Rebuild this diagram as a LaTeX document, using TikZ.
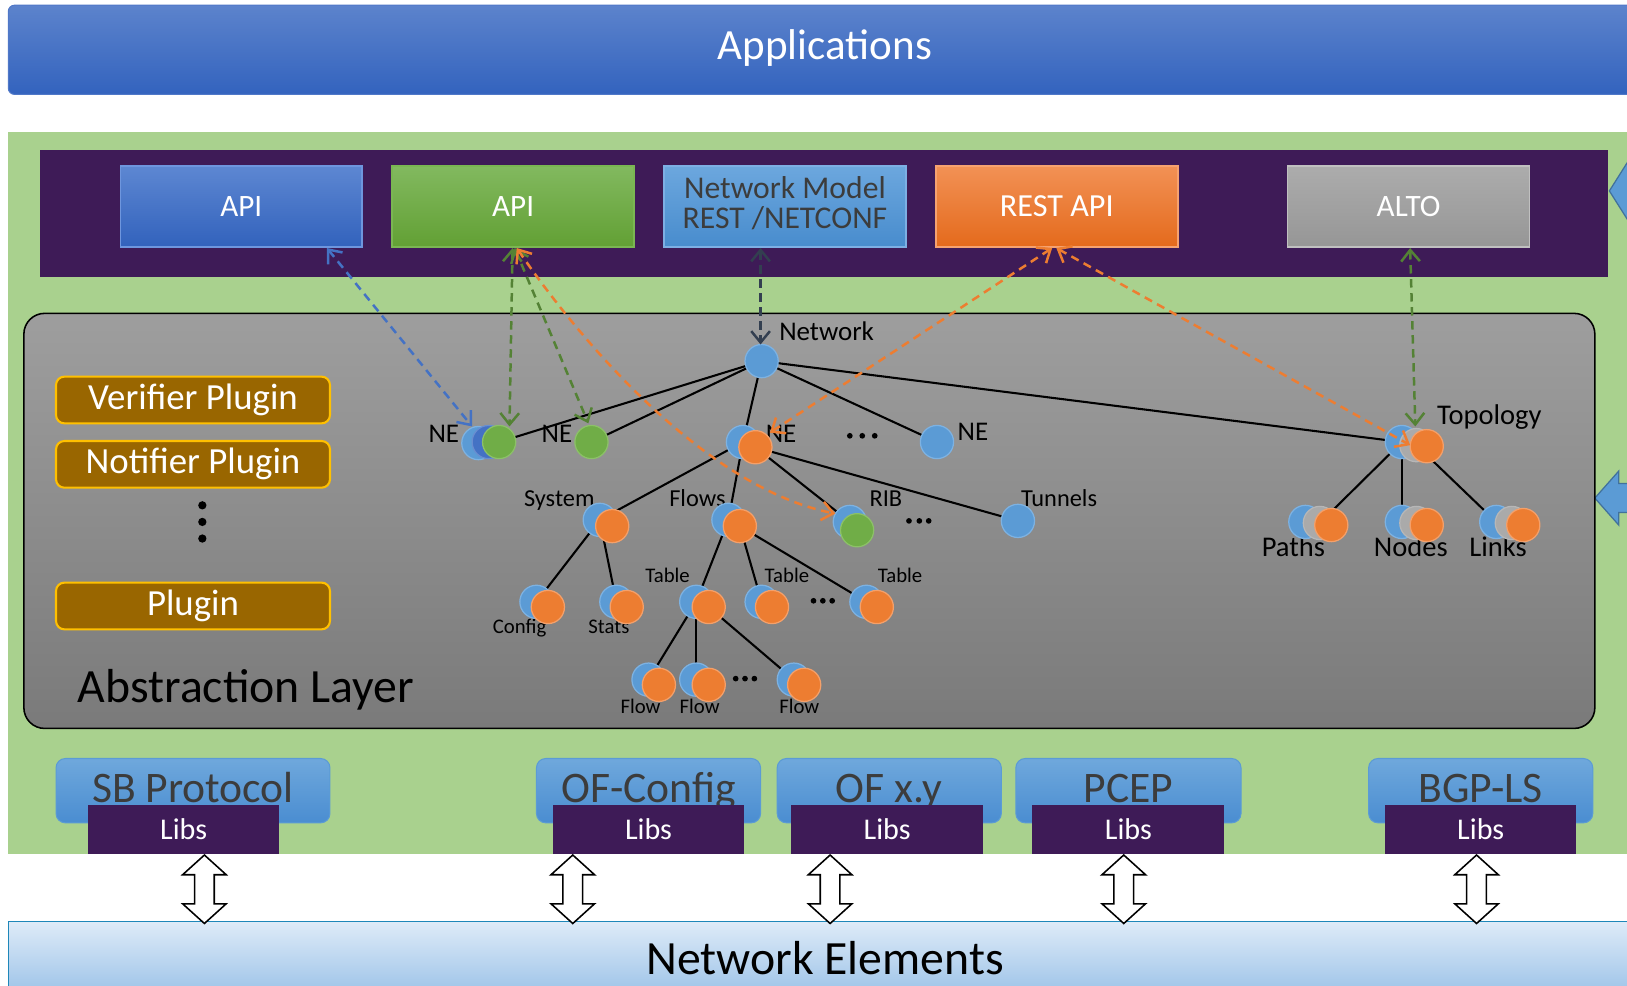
\documentclass[tikz,border=0pt]{standalone}
\usepackage{fontspec}
\setmainfont{Carlito}
\usetikzlibrary{arrows.meta}
\definecolor{purp}{RGB}{62,27,87}
\definecolor{greenbg}{RGB}{169,209,142}
\definecolor{appT}{RGB}{92,131,204}
\definecolor{appB}{RGB}{51,99,190}
\definecolor{appD}{RGB}{80,120,200}
\definecolor{cblue}{RGB}{91,155,213}
\definecolor{cblueL}{RGB}{125,178,226}
\definecolor{corange}{RGB}{237,125,49}
\definecolor{corangeL}{RGB}{244,160,106}
\definecolor{cgreen}{RGB}{112,173,71}
\definecolor{cgreenL}{RGB}{140,193,104}
\definecolor{cdblue}{RGB}{68,114,196}
\definecolor{cgrey}{RGB}{170,170,170}
\definecolor{slate}{RGB}{51,63,80}
\definecolor{dgreen}{RGB}{84,130,53}
\definecolor{dblue}{RGB}{68,114,196}
\definecolor{plugfill}{RGB}{153,102,0}
\definecolor{plugdraw}{RGB}{255,192,0}
\definecolor{txtgrey}{RGB}{60,60,60}
\definecolor{sbT}{RGB}{111,168,220}
\definecolor{sbB}{RGB}{74,141,209}
\definecolor{sbD}{RGB}{91,155,213}
\definecolor{arrfill}{RGB}{91,155,213}
\definecolor{arredge}{RGB}{65,113,156}
\definecolor{neT}{RGB}{222,235,248}
\definecolor{neB}{RGB}{157,195,232}
\definecolor{neD}{RGB}{30,135,185}
\definecolor{absT}{RGB}{158,158,158}
\definecolor{absB}{RGB}{122,122,122}
\newcommand\myfs[1]{\fontsize{#1}{#1}\selectfont}
\begin{document}
\begin{tikzpicture}[x=1pt,y=-1pt,
  every node/.style={inner sep=0pt, outer sep=0pt},
  apibox/.style={rectangle, minimum width=233pt, minimum height=78pt, line width=1.5pt, text=white, font=\myfs{30}, align=center},
  plug/.style={rectangle, rounded corners=8pt, fill=plugfill, draw=plugdraw, line width=2pt, minimum width=264pt, minimum height=45pt, text=white, font=\myfs{35.5}},
  sbbox/.style={rectangle, rounded corners=9pt, top color=sbT, bottom color=sbB, draw=sbD, line width=1pt, minimum height=62pt},
  sbtxt/.style={anchor=base, text=txtgrey, font=\myfs{42}},
  libs/.style={rectangle, fill=purp, minimum height=47pt, text=white, font=\myfs{29}},
  cb/.style={circle, minimum size=32pt, fill=cblue, draw=cblueL, line width=1.2pt},
  co/.style={cb, fill=corange, draw=corangeL},
  cg/.style={cb, fill=cgreen, draw=cgreenL},
  cd/.style={cb, fill=cdblue, draw=cdblue!80!white},
  cy/.style={cb, fill=cgrey, draw=cgrey!85!white},
  lbl/.style={anchor=base west, font=\myfs{26}},
  lblw/.style={anchor=base west, font=\myfs{27.5}},
  lbls/.style={anchor=base west, font=\myfs{23.5}},
  lblt/.style={anchor=base west, font=\myfs{20}},
  tedge/.style={line width=2pt, black},
  dar/.style={dash pattern=on 8pt off 5.5pt, line width=2.4pt, >={Straight Barb[length=11pt,width=18pt]}, <->},
  tdot/.style={circle, fill=black, minimum size=5.5pt},
  barrow/.style={fill=arrfill, draw=arredge, line width=1.2pt, line join=miter},
  darrow/.style={fill=white, draw=black, line width=1.5pt, line join=miter}
]
\clip (0,0) rectangle (1568,950);
\fill[white] (0,0) rectangle (1568,950);

% Applications bar
\node[rectangle, rounded corners=6pt, top color=appT, bottom color=appB, draw=appD, line width=1pt, minimum width=1574pt, minimum height=86pt] (apps) at (795,48) {};
\node[anchor=base, text=white, font=\myfs{41.5}] (appstxt) at (795,57) {Applications};

% green region and purple bar
\fill[greenbg] (8,127) rectangle (1580,823);
\fill[purp] (39,145) rectangle (1550,267);

% right side arrows
\draw[barrow] (1551,184) -- (1575,146) -- (1575,222) -- cycle;
\draw[barrow] (1537,480) -- (1560,454) -- (1560,466) -- (1575,466) -- (1575,494) -- (1560,494) -- (1560,506) -- cycle;

% API boxes
\node[apibox, top color={rgb,255:red,93;green,135;blue,210}, bottom color={rgb,255:red,50;green,98;blue,188}, draw={rgb,255:red,110;green,150;blue,222}] (api1) at (232.5,199) {API};
\node[apibox, top color={rgb,255:red,130;green,185;blue,95}, bottom color={rgb,255:red,98;green,160;blue,52}, draw={rgb,255:red,122;green,182;blue,82}] (api2) at (494.5,199) {API};
\node[rectangle, minimum width=233pt, minimum height=78pt, line width=1.5pt, top color={rgb,255:red,108;green,167;blue,222}, bottom color={rgb,255:red,72;green,140;blue,205}, draw={rgb,255:red,125;green,175;blue,228}] (nm) at (756.5,199) {};
\node[text=txtgrey, font=\fontsize{30.5}{29}\selectfont, align=center, anchor=center] (nmtxt) at (756.5,196) {Network Model\\REST /NETCONF};
\node[apibox, top color={rgb,255:red,242;green,145;blue,85}, bottom color={rgb,255:red,228;green,106;blue,28}, draw={rgb,255:red,246;green,162;blue,112}, font=\myfs{31}] (rest) at (1018.5,199) {REST API};
\node[apibox, top color={rgb,255:red,172;green,172;blue,172}, bottom color={rgb,255:red,150;green,150;blue,150}, draw={rgb,255:red,192;green,192;blue,192}] (alto) at (1357.5,199) {ALTO};

% Abstraction layer
\node[rectangle, draw=black, line width=1.5pt, rounded corners=20pt, top color=absT, bottom color=absB, minimum width=1514pt, minimum height=400pt] (abs) at (780,502) {};
\node[plug] (ver) at (186,385.5) {Verifier Plugin};
\node[plug] (notif) at (186,447.5) {Notifier Plugin};
\node[plug] (plg) at (186,584) {Plugin};
\node[tdot, minimum size=8pt] (pd1) at (195,487) {};
\node[tdot, minimum size=8pt] (pd2) at (195,503) {};
\node[tdot, minimum size=8pt] (pd3) at (195,519) {};
\node[anchor=base west, font=\myfs{46}] (abstxt) at (75,677) {Abstraction Layer};

% tree coordinates
\coordinate (net) at (734,348);
\coordinate (ne1a) at (461,427); \coordinate (ne1b) at (471,426); \coordinate (ne1c) at (481,426);
\coordinate (ne2) at (570,426);
\coordinate (ne3b) at (716,426); \coordinate (ne3o) at (728,431);
\coordinate (ne4) at (903,426);
\coordinate (sysb) at (578,501); \coordinate (syso) at (590,507);
\coordinate (flb) at (702,501); \coordinate (flo) at (713,507);
\coordinate (ribb) at (819,503); \coordinate (ribg) at (826,511);
\coordinate (tun) at (981,502);
\coordinate (cfgb) at (517,580); \coordinate (cfgo) at (528,585);
\coordinate (stb) at (594,580); \coordinate (sto) at (604,585);
\coordinate (t1b) at (671,580); \coordinate (t1o) at (683,585);
\coordinate (t2b) at (734,580); \coordinate (t2o) at (744,585);
\coordinate (t3b) at (835,580); \coordinate (t3o) at (845,585);
\coordinate (f1b) at (625,655); \coordinate (f1o) at (635,660);
\coordinate (f2b) at (671,655); \coordinate (f2o) at (683,660);
\coordinate (f3b) at (765,655); \coordinate (f3o) at (775,660);
\coordinate (tpb) at (1351,426); \coordinate (tpy) at (1365,429); \coordinate (tpo) at (1375,430);
\coordinate (pab) at (1258,503); \coordinate (pay) at (1272,504); \coordinate (pao) at (1283,506);
\coordinate (nob) at (1351,503); \coordinate (noy) at (1365,504); \coordinate (noo) at (1375,506);
\coordinate (lib) at (1442,503); \coordinate (liy) at (1457,504); \coordinate (lio) at (1468,506);

% tree edges
\draw[tedge] (net) -- (ne1c);
\draw[tedge] (net) -- (ne2);
\draw[tedge] (net) -- (ne3b);
\draw[tedge] (net) -- (ne4);
\draw[tedge] (net) -- (tpb);
\draw[tedge] (ne3b) -- (sysb);
\draw[tedge] (ne3b) -- (flb);
\draw[tedge] (ne3o) -- (ribb);
\draw[tedge] (ne3o) -- (tun);
\draw[tedge] (sysb) -- (cfgb);
\draw[tedge] (sysb) -- (stb);
\draw[tedge] (flb) -- (t1b);
\draw[tedge] (flo) -- (t2b);
\draw[tedge] (flo) -- (t3b);
\draw[tedge] (t1b) -- (f1b);
\draw[tedge] (t1b) -- (f2b);
\draw[tedge] (t1o) -- (f3b);
\draw[tedge] (tpb) -- (pay);
\draw[tedge] (tpb) -- (nob);
\draw[tedge] (tpy) -- (lib);

% tree labels
\node[lbl] (lnet) at (751,328) {Network};
\node[lbl] (lne1) at (413,426) {NE};
\node[lbl] (lne2) at (522,426) {NE};
\node[lbl] (lne3) at (738,426) {NE};
\node[lbl] (lne4) at (923,425) {NE};
\node[lbls] (lsys) at (505,488) {System};
\node[lbls] (lfl) at (645,488) {Flows};
\node[lbls] (lrib) at (838,488) {RIB};
\node[lbls] (ltun) at (984,488) {Tunnels};
\node[lblt] (lt1) at (622,561.5) {Table};
\node[lblt] (lt2) at (737,561.5) {Table};
\node[lblt] (lt3) at (846,561.5) {Table};
\node[lblt] (lcfg) at (475,611) {Config};
\node[lblt] (lst) at (567,611) {Stats};
\node[lblt] (lf1) at (598,687.5) {Flow};
\node[lblt] (lf2) at (655,687.5) {Flow};
\node[lblt] (lf3) at (751,687.5) {Flow};
\node[lblw] (ltp) at (1385,409) {Topology};
\node[lblw] (lpa) at (1216,536) {Paths};
\node[lblw] (lno) at (1324,536) {Nodes};
\node[lblw] (lli) at (1416,536) {Links};

% tree circles
\node[cb] (Nnet) at (net) {};
\node[cb] (Nne1a) at (ne1a) {}; \node[cd] (Nne1b) at (ne1b) {}; \node[cg] (Nne1c) at (ne1c) {};
\node[cg] (Nne2) at (ne2) {};
\node[cb] (Nne3b) at (ne3b) {}; \node[co] (Nne3o) at (ne3o) {};
\node[cb] (Nne4) at (ne4) {};
\node[cb] (Nsysb) at (sysb) {}; \node[co] (Nsyso) at (syso) {};
\node[cb] (Nflb) at (flb) {}; \node[co] (Nflo) at (flo) {};
\node[cb] (Nribb) at (ribb) {}; \node[cg] (Nribg) at (ribg) {};
\node[cb] (Ntun) at (tun) {};
\node[cb] (Ncfgb) at (cfgb) {}; \node[co] (Ncfgo) at (cfgo) {};
\node[cb] (Nstb) at (stb) {}; \node[co] (Nsto) at (sto) {};
\node[cb] (Nt1b) at (t1b) {}; \node[co] (Nt1o) at (t1o) {};
\node[cb] (Nt2b) at (t2b) {}; \node[co] (Nt2o) at (t2o) {};
\node[cb] (Nt3b) at (t3b) {}; \node[co] (Nt3o) at (t3o) {};
\node[cb] (Nf1b) at (f1b) {}; \node[co] (Nf1o) at (f1o) {};
\node[cb] (Nf2b) at (f2b) {}; \node[co] (Nf2o) at (f2o) {};
\node[cb] (Nf3b) at (f3b) {}; \node[co] (Nf3o) at (f3o) {};
\node[cb] (Ntpb) at (tpb) {}; \node[cy] (Ntpy) at (tpy) {}; \node[co] (Ntpo) at (tpo) {};
\node[cb] (Npab) at (pab) {}; \node[cy] (Npay) at (pay) {}; \node[co] (Npao) at (pao) {};
\node[cb] (Nnob) at (nob) {}; \node[cy] (Nnoy) at (noy) {}; \node[co] (Nnoo) at (noo) {};
\node[cb] (Nlib) at (lib) {}; \node[cy] (Nliy) at (liy) {}; \node[co] (Nlio) at (lio) {};

% ellipsis dots
\foreach \xx [count=\i] in {819,831,843} {\node[tdot] (da\i) at (\xx,420) {};}
\foreach \xx [count=\i] in {876,886,895} {\node[tdot] (db\i) at (\xx,502) {};}
\foreach \xx [count=\i] in {784,793,802} {\node[tdot] (dc\i) at (\xx,579) {};}
\foreach \xx [count=\i] in {709,718,727} {\node[tdot] (dd\i) at (\xx,654) {};}

% dashed arrows
\coordinate (a1t) at (315,239); \coordinate (a1b) at (455,411);
\coordinate (a2t) at (494,239); \coordinate (a2b) at (491,411);
\coordinate (a3t) at (496,239); \coordinate (a3b) at (567,408);
\coordinate (a4t) at (498,239); \coordinate (a4b) at (805,495);
\coordinate (a5t) at (733,239); \coordinate (a5b) at (733,332);
\coordinate (a6t) at (1014,239); \coordinate (a6b) at (742,417);
\coordinate (a7t) at (1018,239); \coordinate (a7b) at (1359,429);
\coordinate (a8t) at (1359,239); \coordinate (a8b) at (1364,411);
\draw[dar, dblue] (a1t) -- (a1b);
\draw[dar, dgreen] (a2t) -- (a2b);
\draw[dar, dgreen] (a3t) -- (a3b);
\draw[dar, corange] (a4t) .. controls (560,330) and (680,470) .. (a4b);
\draw[dar, slate] (a5t) -- (a5b);
\draw[dar, corange] (a6t) -- (a6b);
\draw[dar, corange] (a7t) -- (a7b);
\draw[dar, dgreen] (a8t) -- (a8b);

% southbound protocols
\node[sbbox, minimum width=264pt] (sb) at (186,762) {};
\node[sbbox, minimum width=216pt] (ofc) at (625,762) {};
\node[sbbox, minimum width=216pt] (ofx) at (857,762) {};
\node[sbbox, minimum width=217pt] (pcep) at (1087.5,762) {};
\node[sbbox, minimum width=216pt] (bgp) at (1427,762) {};
\node[sbtxt] (sbt) at (186,773) {SB Protocol};
\node[sbtxt] (ofct) at (625,773) {OF-Config};
\node[sbtxt] (ofxt) at (857,773) {OF x.y};
\node[sbtxt] (pcept) at (1087.5,773) {PCEP};
\node[sbtxt] (bgpt) at (1427,773) {BGP-LS};
\node[libs, minimum width=184pt] (lib1) at (177,799.5) {Libs};
\node[libs, minimum width=184pt] (lib2) at (625,799.5) {Libs};
\node[libs, minimum width=185pt] (lib3) at (855,799.5) {Libs};
\node[libs, minimum width=185pt] (lib4) at (1087.5,799.5) {Libs};
\node[libs, minimum width=184pt] (lib5) at (1427,799.5) {Libs};

% network elements
\node[rectangle, top color=neT, bottom color=neB, draw=neD, line width=1.2pt, minimum width=1574pt, minimum height=70pt, font=\myfs{46}] (ne) at (795,923) {Network Elements};

% double arrows
\foreach \c in {197,552,800,1083,1423} {
  \draw[darrow] (\c,824) -- (\c+21,843) -- (\c+9.5,843) -- (\c+9.5,871) -- (\c+21,871) -- (\c,890) -- (\c-21,871) -- (\c-9.5,871) -- (\c-9.5,843) -- (\c-21,843) -- cycle;
}
\end{tikzpicture}
\end{document}
